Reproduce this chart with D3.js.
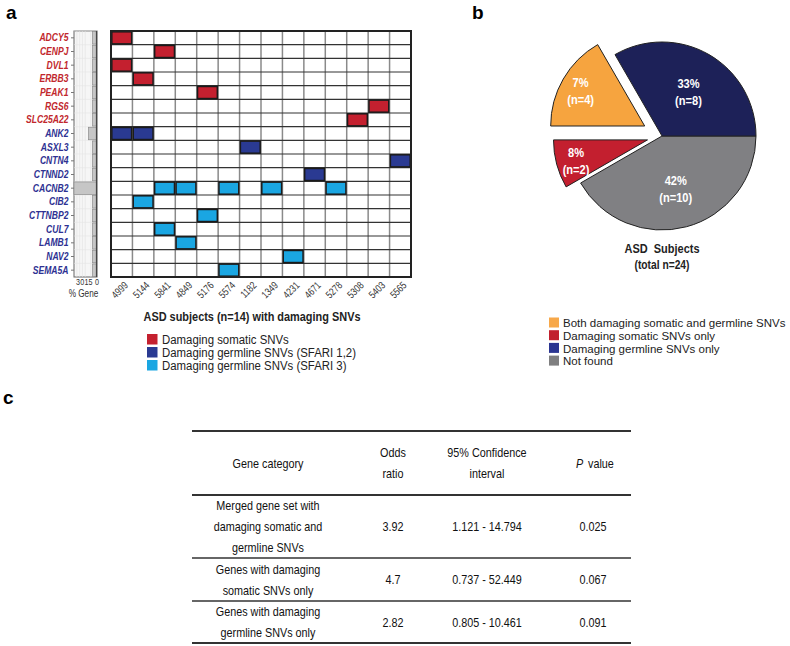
<!DOCTYPE html>
<html>
<head>
<meta charset="utf-8">
<script src="https://cdn.jsdelivr.net/npm/d3@7"></script>
<style>
  body { margin: 0; background: #fff; }
  svg { display: block; }
</style>
</head>
<body>
<div id="chart"></div>
<script>
// ---- data ----
const genes = ["ADCY5", "CENPJ", "DVL1", "ERBB3", "PEAK1", "RGS6", "SLC25A22",
  "ANK2", "ASXL3", "CNTN4", "CTNND2", "CACNB2", "CIB2", "CTTNBP2", "CUL7", "LAMB1", "NAV2", "SEMA5A"];
const geneGroup = ["somatic", "somatic", "somatic", "somatic", "somatic", "somatic", "somatic",
  "germline", "germline", "germline", "germline", "germline", "germline", "germline", "germline", "germline", "germline", "germline"];
// % of subjects carrying the gene (side bars)
const geneFreq = [7.1, 7.1, 7.1, 7.1, 7.1, 7.1, 7.1, 14.3, 7.1, 7.1, 7.1, 42.9, 7.1, 7.1, 7.1, 7.1, 7.1, 7.1];
const freqTicks = [30, 15, 0];
const subjects = ["4999", "5144", "5841", "4849", "5176", "5574", "1182", "1349", "4231", "4671", "5278", "5308", "5403", "5565"];
// [gene, subject, type]
const hits = [
  ["ADCY5", "4999", "som"], ["CENPJ", "5841", "som"], ["DVL1", "4999", "som"], ["ERBB3", "5144", "som"],
  ["PEAK1", "5176", "som"], ["RGS6", "5403", "som"], ["SLC25A22", "5308", "som"],
  ["ANK2", "4999", "g12"], ["ANK2", "5144", "g12"], ["ASXL3", "1182", "g12"], ["CNTN4", "5565", "g12"], ["CTNND2", "4671", "g12"],
  ["CACNB2", "5841", "g3"], ["CACNB2", "4849", "g3"], ["CACNB2", "5574", "g3"], ["CACNB2", "1349", "g3"], ["CACNB2", "5278", "g3"],
  ["CIB2", "5144", "g3"], ["CTTNBP2", "5176", "g3"], ["CUL7", "5841", "g3"], ["LAMB1", "4849", "g3"],
  ["NAV2", "4231", "g3"], ["SEMA5A", "5574", "g3"]
];
const hitTypes = ["som", "g12", "g3"];
const hitLabels = ["Damaging somatic SNVs", "Damaging germline SNVs (SFARI 1,2)", "Damaging germline SNVs (SFARI 3)"];

const pieCats = ["Both damaging somatic and germline SNVs", "Damaging somatic SNVs only", "Damaging germline SNVs only", "Not found"];
const pieCounts = [4, 2, 8, 10];
const piePct = ["7%", "8%", "33%", "42%"];
const pieOrder = [3, 1, 0, 2]; // drawing order clockwise from 3 o'clock

const tblHeader = [["Gene category"], ["Odds", "ratio"], ["95% Confidence", "interval"], ["P", "value"]];
const tblCategory = [["Merged gene set with", "damaging somatic and", "germline SNVs"],
  ["Genes with damaging", "somatic SNVs only"], ["Genes with damaging", "germline SNVs only"]];
const oddsRatio = ["3.92", "4.7", "2.82"];
const confInt = ["1.121 - 14.794", "0.737 - 52.449", "0.805 - 10.461"];
const pValue = ["0.025", "0.067", "0.091"];

// ---- styles ----
const SANS = "'Liberation Sans', Arial, sans-serif";
const RED = "#c1272d", NAVY = "#2e3192";
const hitColor = d3.scaleOrdinal().domain(hitTypes).range(["#c4202f", "#2a3a92", "#1aa6e2"]);
const pieColor = d3.scaleOrdinal().domain(pieCats).range(["#f6a43f", "#c31f2f", "#1d2158", "#808083"]);
const pieLegendColor = d3.scaleOrdinal().domain(pieCats).range(["#f7a84a", "#c1202e", "#2b3591", "#7f7f80"]);

// no narrow font installed: squeeze text horizontally to look condensed
function squeeze(sel, f) {
  sel.each(function () {
    const L = this.getComputedTextLength();
    d3.select(this).attr("textLength", L * f).attr("lengthAdjust", "spacingAndGlyphs");
  });
}
function squeezeTo(sel, width) {
  let maxL = 0;
  sel.each(function () { maxL = Math.max(maxL, this.getComputedTextLength()); });
  squeeze(sel, Math.min(1, width / maxL));
}

const svg = d3.select("#chart").append("svg")
  .attr("width", 790).attr("height", 646)
  .attr("font-family", SANS);

// panel letters
svg.append("text").attr("x", 6).attr("y", 19).text("a")
  .attr("font-weight", "bold").attr("font-size", 19);
svg.append("text").attr("x", 472).attr("y", 19).text("b")
  .attr("font-weight", "bold").attr("font-size", 19);
svg.append("text").attr("x", 3).attr("y", 404).text("c")
  .attr("font-weight", "bold").attr("font-size", 19);

// ================= panel a =================
const gridTop = 31, gridBottom = 277;
const x = d3.scaleBand().domain(subjects).range([111, 411]);
const y = d3.scaleBand().domain(genes).range([gridTop, gridBottom]);

// side bar panel (% Gene)
const xs = d3.scaleLinear().domain([0, 40]).range([96.5, 74]).clamp(true);
const side = svg.append("g");
side.append("rect").attr("x", 74).attr("y", gridTop).attr("width", 23).attr("height", gridBottom - gridTop)
  .attr("fill", "#f6f6f6").attr("stroke", "#666").attr("stroke-width", 1);
side.selectAll(".vg").data([5, 10, 20, 25, 30, 35]).enter().append("line")
  .attr("x1", d => xs(d)).attr("x2", d => xs(d)).attr("y1", gridTop).attr("y2", gridBottom)
  .attr("stroke", "#e2e2e2").attr("stroke-width", 0.6);
side.selectAll(".hg").data(genes).enter().append("line")
  .attr("x1", 74).attr("x2", 97).attr("y1", d => y(d)).attr("y2", d => y(d))
  .attr("stroke", "#e6e6e6").attr("stroke-width", 0.6);
side.selectAll(".bar").data(genes).enter().append("rect")
  .attr("x", (d, i) => xs(geneFreq[i]))
  .attr("y", d => y(d) + 0.6)
  .attr("width", (d, i) => xs(0) - xs(geneFreq[i]))
  .attr("height", y.bandwidth() - 1.2)
  .attr("fill", "#c6c6c6").attr("stroke", "#8c8c8c").attr("stroke-width", 0.7);
side.append("line").attr("x1", xs(0)).attr("x2", xs(0)).attr("y1", gridTop).attr("y2", gridBottom)
  .attr("stroke", "#444").attr("stroke-width", 1.2);

// gene labels via left axis
const yAxis = side.append("g").attr("transform", "translate(74,0)")
  .call(d3.axisLeft(y).tickSize(3).tickPadding(2.5));
yAxis.select(".domain").remove();
yAxis.selectAll(".tick line").attr("stroke", "#777");
yAxis.selectAll(".tick text")
  .attr("font-family", SANS).attr("font-size", 11).attr("font-weight", "bold").attr("font-style", "italic")
  .attr("fill", (d, i) => geneGroup[i] === "somatic" ? RED : NAVY)
  .call(squeeze, 0.78);

const xsAxis = side.append("g").attr("transform", `translate(0,${gridBottom})`)
  .call(d3.axisBottom(xs).tickValues(freqTicks).tickSize(0).tickPadding(2));
xsAxis.select(".domain").remove();
xsAxis.selectAll(".tick text").attr("font-family", SANS).attr("font-size", 9).attr("fill", "#333")
  .call(squeeze, 0.8);
side.append("text").attr("x", 83.5).attr("y", 297).attr("text-anchor", "middle")
  .attr("font-size", 10).attr("fill", "#333").text("% Gene")
  .call(squeeze, 0.82);

// heatmap grid
const grid = svg.append("g");
grid.append("rect").attr("x", 111).attr("y", gridTop).attr("width", 300).attr("height", gridBottom - gridTop).attr("fill", "#fff");
grid.selectAll(".vl").data(subjects.slice(1)).enter().append("line")
  .attr("x1", d => x(d)).attr("x2", d => x(d)).attr("y1", gridTop).attr("y2", gridBottom)
  .attr("stroke", "#8a8a8a").attr("stroke-width", 1.5);
grid.selectAll(".hl").data(genes.slice(1)).enter().append("line")
  .attr("x1", 111).attr("x2", 411).attr("y1", d => y(d)).attr("y2", d => y(d))
  .attr("stroke", "#333").attr("stroke-width", 1.2);
grid.selectAll(".cell").data(hits).enter().append("rect")
  .attr("x", d => x(d[1]) + 0.8).attr("y", d => y(d[0]) + 0.8)
  .attr("width", x.bandwidth() - 1.6).attr("height", y.bandwidth() - 1.6)
  .attr("fill", d => hitColor(d[2])).attr("stroke", "#1a1a1a").attr("stroke-width", 1.5);
grid.append("rect").attr("x", 111).attr("y", gridTop).attr("width", 300).attr("height", gridBottom - gridTop)
  .attr("fill", "none").attr("stroke", "#222").attr("stroke-width", 2);

const xAxis = grid.append("g").attr("transform", `translate(0,${gridBottom})`)
  .call(d3.axisBottom(x).tickSize(0).tickPadding(0));
xAxis.select(".domain").remove();
xAxis.selectAll(".tick text")
  .attr("font-family", SANS).attr("font-size", 10.5).attr("fill", "#333")
  .attr("text-anchor", "end").attr("dy", 0)
  .attr("transform", "translate(7,9) rotate(-45)")
  .call(squeeze, 0.78);

svg.append("text").attr("x", 252).attr("y", 321).attr("text-anchor", "middle")
  .attr("font-size", 13.5).attr("font-weight", "bold").attr("fill", "#222")
  .text("ASD subjects (n=14) with damaging SNVs")
  .call(squeezeTo, 217);

const legA = svg.append("g").selectAll("g").data(hitTypes).enter().append("g")
  .attr("transform", (d, i) => `translate(147,${334 + i * 13})`);
legA.append("rect").attr("width", 10.5).attr("height", 10.5).attr("fill", d => hitColor(d));
legA.append("text").attr("x", 15).attr("y", 10)
  .attr("font-size", 12.5).attr("fill", "#222")
  .text((d, i) => hitLabels[i]);
squeezeTo(legA.selectAll("text"), 194);

// ================= panel b =================
const cx = 662, cy = 136, R = 94;
const pieData = pieOrder.map(i => ({ cat: pieCats[i], n: pieCounts[i], pct: piePct[i] }));
const explode = { "Both damaging somatic and germline SNVs": 20, "Damaging somatic SNVs only": 15 };
const arcs = d3.pie().sort(null).value(d => d.n)
  .startAngle(Math.PI / 2).endAngle(Math.PI / 2 + 2 * Math.PI)(pieData);
const arc = d3.arc().innerRadius(0).outerRadius(R);

const slices = svg.append("g").attr("transform", `translate(${cx},${cy})`)
  .selectAll("g").data(arcs).enter().append("g")
  .attr("transform", d => {
    const m = (d.startAngle + d.endAngle) / 2, e = explode[d.data.cat] || 0;
    return `translate(${Math.sin(m) * e},${-Math.cos(m) * e})`;
  });
slices.append("path").attr("d", arc).attr("fill", d => pieColor(d.data.cat))
  .attr("stroke", "#222").attr("stroke-width", 1);
const lab = slices.append("text").attr("text-anchor", "middle")
  .attr("font-size", 13.5).attr("font-weight", "bold").attr("fill", "#fff")
  .attr("transform", d => {
    const m = (d.startAngle + d.endAngle) / 2, r = explode[d.data.cat] ? 74 : 53;
    return `translate(${Math.sin(m) * r},${-Math.cos(m) * r})`;
  });
lab.append("tspan").attr("x", 0).attr("y", -2).text(d => d.data.pct);
lab.append("tspan").attr("x", 0).attr("y", 14.5).text(d => `(n=${d.data.n})`);
squeeze(lab.selectAll("tspan"), 0.82);

svg.append("text").attr("x", cx).attr("y", 253).attr("text-anchor", "middle")
  .attr("font-size", 13.5).attr("font-weight", "bold").attr("fill", "#222")
  .attr("xml:space", "preserve").text("ASD  Subjects")
  .call(squeezeTo, 75);
svg.append("text").attr("x", cx).attr("y", 269).attr("text-anchor", "middle")
  .attr("font-size", 12.5).attr("font-weight", "bold").attr("fill", "#222")
  .text(`(total n=${d3.sum(pieCounts)})`)
  .call(squeeze, 0.82);

const legB = svg.append("g").selectAll("g").data(pieCats).enter().append("g")
  .attr("transform", (d, i) => `translate(549,${317.5 + i * 12.7})`);
legB.append("rect").attr("width", 10).attr("height", 10).attr("fill", d => pieLegendColor(d));
legB.append("text").attr("x", 14).attr("y", 9.8)
  .attr("font-size", 11.5).attr("fill", "#222").text(d => d);
squeezeTo(legB.selectAll("text"), 223);

// ================= panel c =================
const colX = [268, 393, 487, 593];
const rowLines = [431, 495, 558, 601, 643];
const tbl = svg.append("g").attr("font-size", 13.5).attr("fill", "#111");
tbl.selectAll("line").data(rowLines).enter().append("line")
  .attr("x1", 192).attr("x2", 631).attr("y1", d => d).attr("y2", d => d)
  .attr("stroke", "#333").attr("stroke-width", (d, i) => (i === 2 || i === 3) ? 1.5 : 2);

function cellText(lines, cxv, cyv, gap) {
  const t = tbl.append("text").attr("class", "cell").attr("text-anchor", "middle");
  lines.forEach((s, k) => {
    t.append("tspan").attr("x", cxv)
      .attr("y", cyv + (k - (lines.length - 1) / 2) * gap + 4.8).text(s);
  });
  return t;
}
const headMid = (rowLines[0] + rowLines[1]) / 2;
tblHeader.forEach((h, j) => {
  if (j === 3) {
    // italic P followed by "value" on one line
    tbl.append("text").attr("class", "cell").attr("x", colX[j] - 17).attr("y", headMid + 4.8)
      .attr("font-style", "italic").append("tspan").attr("x", colX[j] - 17).text(h[0]);
    tbl.append("text").attr("class", "cell").attr("x", colX[j] - 5).attr("y", headMid + 4.8)
      .append("tspan").attr("x", colX[j] - 5).text(h[1]);
  } else {
    cellText(h, colX[j], headMid, 21);
  }
});
tblCategory.forEach((c, i) => {
  const mid = (rowLines[i + 1] + rowLines[i + 2]) / 2;
  cellText(c, colX[0], mid, 21);
  cellText([oddsRatio[i]], colX[1], mid, 21);
  cellText([confInt[i]], colX[2], mid, 21);
  cellText([pValue[i]], colX[3], mid, 21);
});
squeeze(tbl.selectAll("text.cell").selectAll("tspan"), 0.8);
</script>
</body>
</html>
